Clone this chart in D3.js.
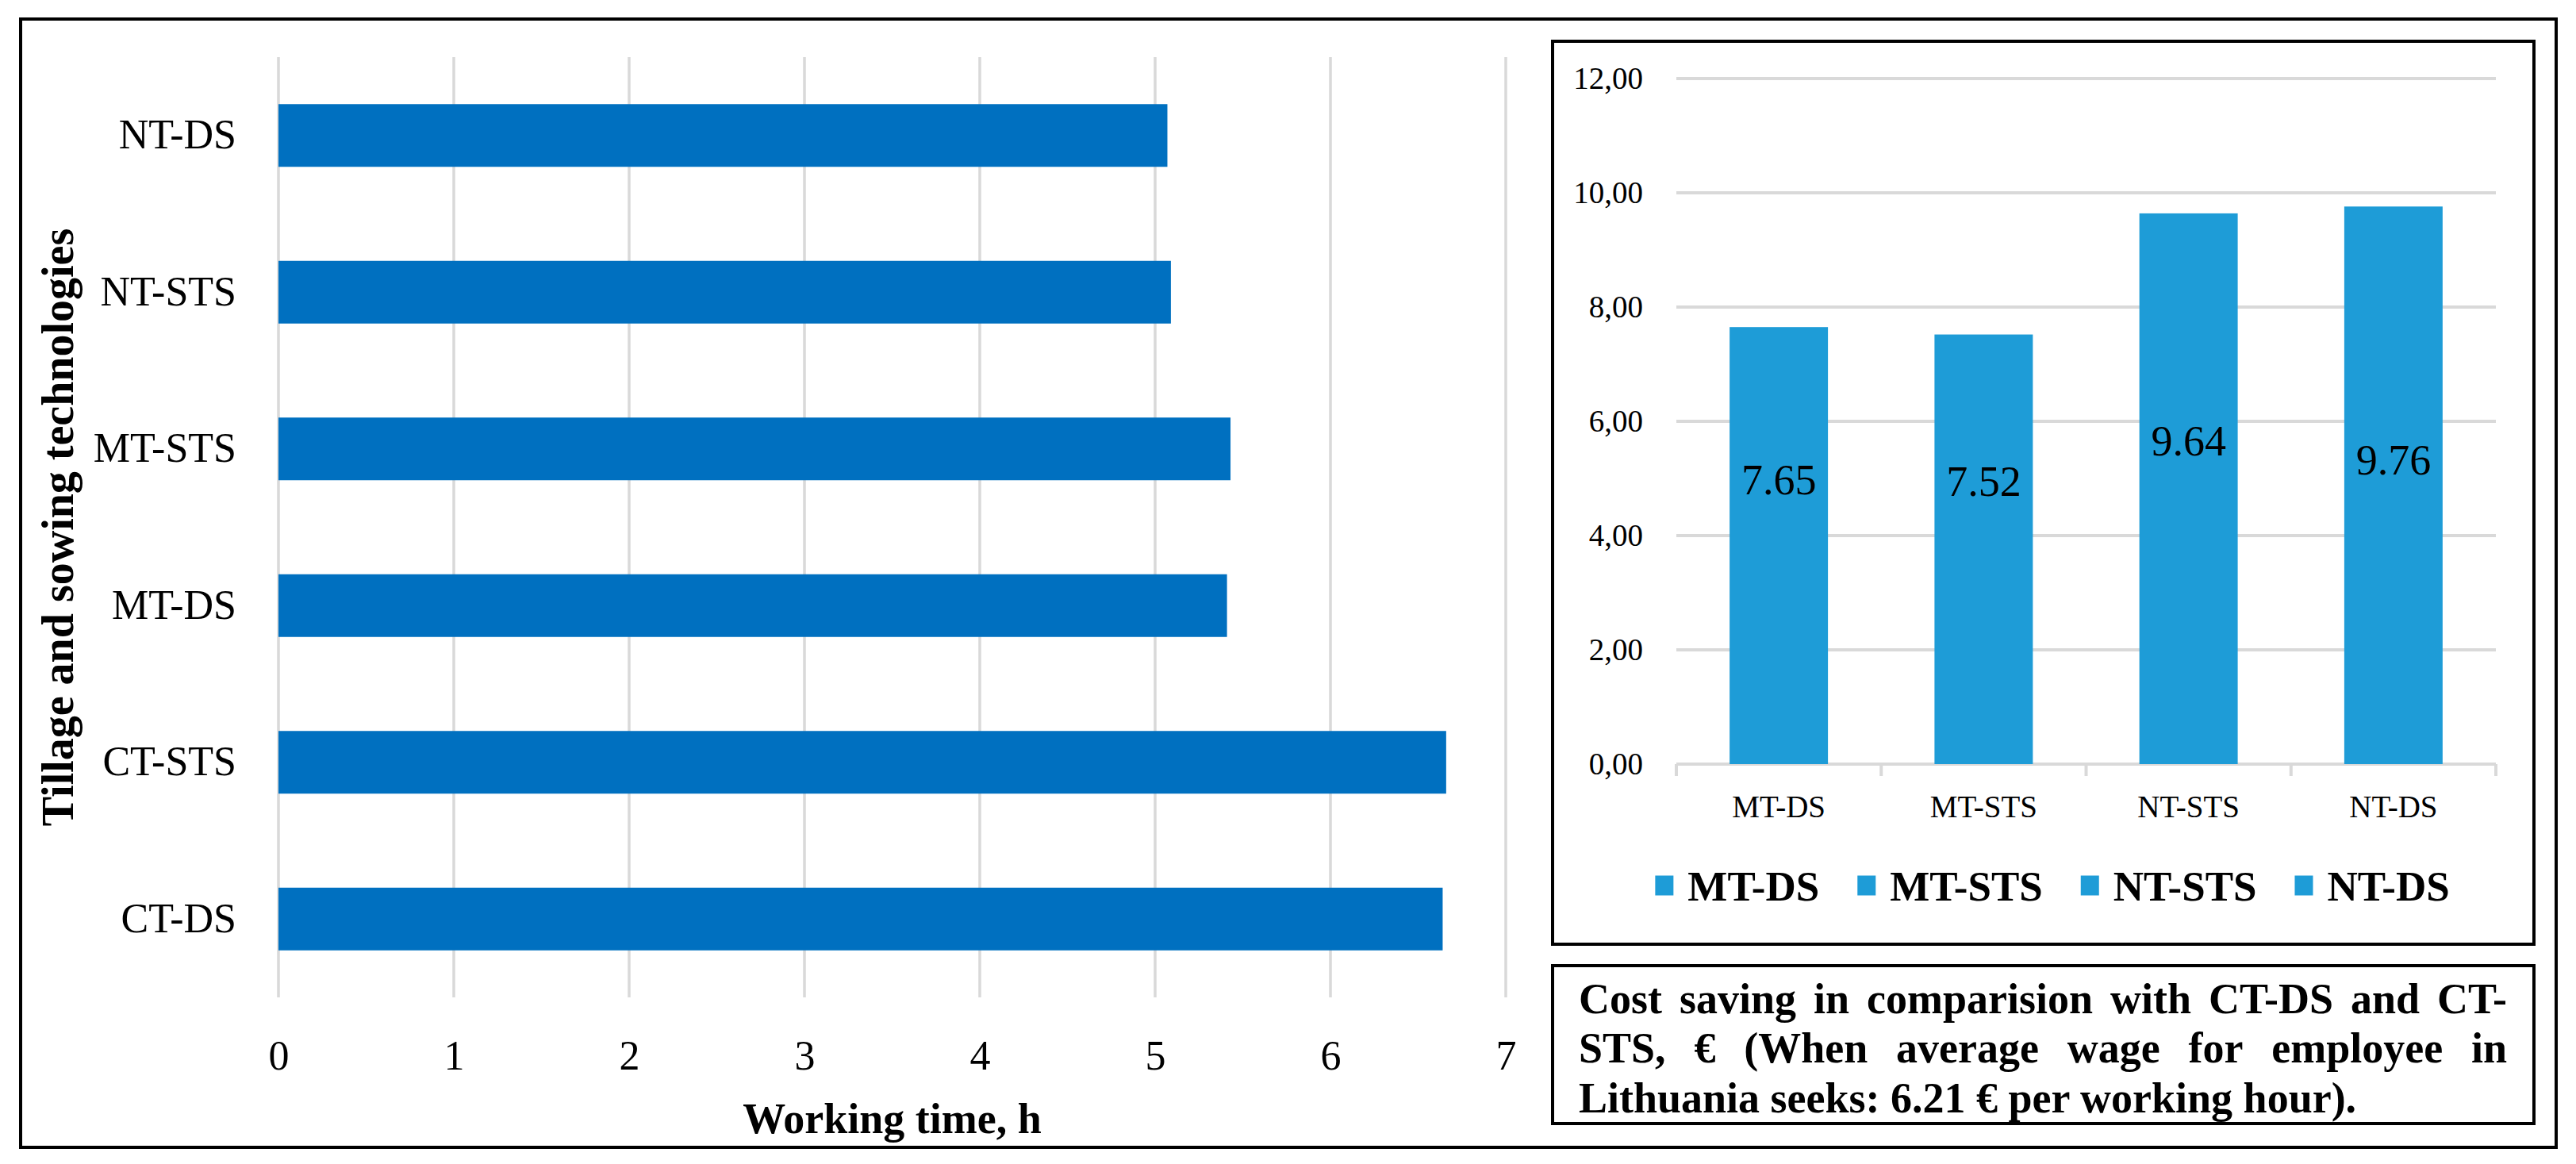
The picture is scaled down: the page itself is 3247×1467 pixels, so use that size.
<!DOCTYPE html>
<html lang="en">
<head>
<meta charset="UTF-8">
<title>Working time and cost saving</title>
<script src="https://d3js.org/d3.v7.min.js"></script>
<style>
  body { margin: 0; background: #fff; }
  svg { display: block; font-family: "Liberation Serif", "Times New Roman", serif; }
  .axis path { display: none; }
  .axis text { fill: #000; }
</style>
</head>
<body>
<svg id="chart" width="3247" height="1467"></svg>
<script>
// Left chart: working time per technology (h)
const techLeft = ['NT-DS', 'NT-STS', 'MT-STS', 'MT-DS', 'CT-STS', 'CT-DS'];
const hoursLeft = [5.07, 5.09, 5.43, 5.41, 6.66, 6.64];
const xTicksLeft = [0, 1, 2, 3, 4, 5, 6, 7];

// Right chart: cost saving vs CT (EUR)
const techRight = ['MT-DS', 'MT-STS', 'NT-STS', 'NT-DS'];
const savingRight = [7.65, 7.52, 9.64, 9.76];
const labelAtRight = [4.97, 4.95, 5.65, 5.32];   // where each value label sits, in axis units
const yTicksRight = [0, 2, 4, 6, 8, 10, 12];

const noteLines = [
  'Cost saving in comparision with CT-DS and CT-',
  'STS, € (When average wage for employee in',
  'Lithuania seeks: 6.21 € per working hour).'
];

const svg = d3.select('#chart');
const GRID = '#d9d9d9';

// frames
function frame(x0, y0, x1, y1) {
  svg.append('rect').attr('x', x0).attr('y', y0)
    .attr('width', x1 - x0).attr('height', y1 - y0)
    .attr('fill', 'none').attr('stroke', '#000').attr('stroke-width', 4);
}
frame(26, 24, 3222, 1446);
frame(1957, 52, 3194, 1190);
frame(1957, 1217, 3194, 1416);

// axis helper: drop d3's default sans-serif font so the serif family applies
function axisText(size) {
  return g => {
    g.attr('font-family', null).attr('font-size', null);
    g.selectAll('text').style('font-size', size + 'px');
  };
}

// ---------- left horizontal bar chart ----------
const xL = d3.scaleLinear().domain([0, 7]).range([351, 1898]);
const yL = d3.scaleBand().domain(techLeft).range([72, 1257])
  .paddingInner(0.6).paddingOuter(0.3);

svg.append('g').selectAll('line').data(xTicksLeft).join('line')
  .attr('x1', d => xL(d)).attr('x2', d => xL(d))
  .attr('y1', 72).attr('y2', 1257)
  .attr('stroke', GRID).attr('stroke-width', 3.5);

svg.append('g').selectAll('rect').data(techLeft).join('rect')
  .attr('x', xL(0))
  .attr('y', d => yL(d))
  .attr('width', (d, i) => xL(hoursLeft[i]) - xL(0))
  .attr('height', yL.bandwidth())
  .attr('fill', '#0070c0');

svg.append('g').attr('class', 'axis')
  .attr('transform', `translate(0,1257)`)
  .call(d3.axisBottom(xL).tickValues(xTicksLeft).tickFormat(d3.format('d'))
    .tickSize(0).tickPadding(54))
  .call(axisText(52));

svg.append('g').attr('class', 'axis')
  .attr('transform', `translate(${xL(0)},0)`)
  .call(d3.axisLeft(yL).tickSize(0).tickPadding(53))
  .call(axisText(52));

svg.append('text')
  .attr('x', (xL(0) + xL(7)) / 2).attr('y', 1428)
  .attr('text-anchor', 'middle')
  .style('font-size', '54px').style('font-weight', 'bold')
  .text('Working time, h');

svg.append('text')
  .attr('transform', `translate(92,${(72 + 1257) / 2}) rotate(-90)`)
  .attr('text-anchor', 'middle')
  .style('font-size', '56px').style('font-weight', 'bold')
  .text('Tillage and sowing technologies');

// ---------- right column chart ----------
const xR = d3.scaleBand().domain(techRight).range([2113, 3146])
  .paddingInner(0.52).paddingOuter(0.26);
const yR = d3.scaleLinear().domain([0, 12]).range([963, 99]);

svg.append('g').selectAll('line').data(yTicksRight).join('line')
  .attr('x1', 2113).attr('x2', 3146)
  .attr('y1', d => yR(d)).attr('y2', d => yR(d))
  .attr('stroke', GRID).attr('stroke-width', 4);

// category boundary ticks under the baseline
const [r0, r1] = xR.range();
svg.append('g').selectAll('line').data(d3.range(techRight.length + 1)).join('line')
  .attr('x1', i => r0 + i * (r1 - r0) / techRight.length)
  .attr('x2', i => r0 + i * (r1 - r0) / techRight.length)
  .attr('y1', yR(0)).attr('y2', yR(0) + 15)
  .attr('stroke', GRID).attr('stroke-width', 4);

svg.append('g').selectAll('rect').data(techRight).join('rect')
  .attr('x', d => xR(d))
  .attr('y', (d, i) => yR(savingRight[i]))
  .attr('width', xR.bandwidth())
  .attr('height', (d, i) => yR(0) - yR(savingRight[i]))
  .attr('fill', '#1e9cd7');

svg.append('g').selectAll('text').data(techRight).join('text')
  .attr('x', d => xR(d) + xR.bandwidth() / 2)
  .attr('y', (d, i) => yR(labelAtRight[i]))
  .attr('text-anchor', 'middle').attr('dominant-baseline', 'central')
  .style('font-size', '54px')
  .text((d, i) => savingRight[i].toFixed(2));

svg.append('g').attr('class', 'axis')
  .attr('transform', `translate(0,${yR(0)})`)
  .call(d3.axisBottom(xR).tickSize(0).tickPadding(39))
  .call(axisText(39));

svg.append('g').attr('class', 'axis')
  .attr('transform', `translate(2113,0)`)
  .call(d3.axisLeft(yR).tickValues(yTicksRight).tickSize(0).tickPadding(42)
    .tickFormat(d => d3.format('.2f')(d).replace('.', ',')))
  .call(axisText(39));

// legend
const legend = svg.append('g');
const items = legend.selectAll('g').data(techRight).join('g');
items.append('rect').attr('width', 23).attr('height', 25).attr('y', -12.5).attr('fill', '#1e9cd7');
items.append('text').attr('x', 41).attr('dy', '0.35em')
  .style('font-size', '53px').style('font-weight', 'bold')
  .text(d => d);
let cursor = 0;
const offsets = [];
items.each(function () {
  offsets.push(cursor);
  cursor += 41 + d3.select(this).select('text').node().getComputedTextLength() + 48;
});
const legendWidth = cursor - 48;
items.attr('transform', (d, i) => `translate(${offsets[i]},0)`);
legend.attr('transform', `translate(${2587 - legendWidth / 2},1116)`);

// ---------- note box with justified text ----------
const noteLeft = 1990, noteRight = 3160, noteBase = [1277, 1339, 1402];
noteLines.forEach((line, li) => {
  const g = svg.append('g').style('font-size', '54px').style('font-weight', 'bold');
  if (li === noteLines.length - 1) {
    g.append('text').attr('x', noteLeft).attr('y', noteBase[li]).text(line);
    return;
  }
  const words = line.split(' ');
  const nodes = words.map(w => g.append('text').attr('y', noteBase[li]).text(w));
  const widths = nodes.map(n => n.node().getComputedTextLength());
  const gap = (noteRight - noteLeft - d3.sum(widths)) / (words.length - 1);
  let x = noteLeft;
  nodes.forEach((n, i) => { n.attr('x', x); x += widths[i] + gap; });
});
</script>
</body>
</html>
